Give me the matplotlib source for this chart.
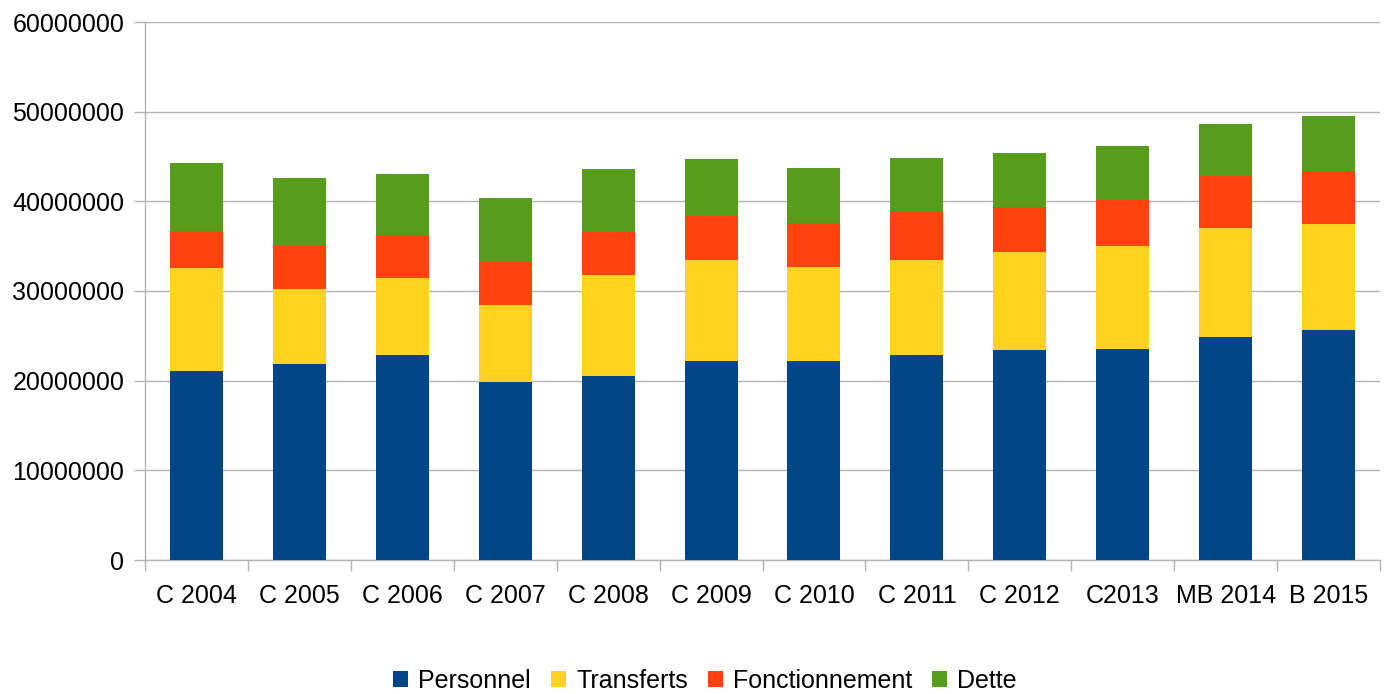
import matplotlib
matplotlib.use("Agg")
import matplotlib.pyplot as plt
import numpy as np

categories = ["C 2004", "C 2005", "C 2006", "C 2007", "C 2008", "C 2009",
              "C 2010", "C 2011", "C 2012", "C2013", "MB 2014", "B 2015"]
personnel = [21.12, 21.86, 22.87, 19.86, 20.52, 22.19, 22.19, 22.87, 23.42, 23.53, 24.87, 25.65]
transferts = [11.44, 8.36, 8.58, 8.58, 11.26, 11.27, 10.49, 10.59, 10.93, 11.49, 12.15, 11.82]
fonctionnement = [4.13, 4.83, 4.71, 4.83, 4.83, 4.93, 4.90, 5.46, 5.02, 5.16, 5.83, 5.91]
dette = [7.58, 7.54, 6.88, 7.10, 6.99, 6.38, 6.13, 5.91, 6.01, 5.98, 5.76, 6.13]
series_names = ["Personnel", "Transferts", "Fonctionnement", "Dette"]
colors = ["#004586", "#ffd320", "#ff420e", "#579d1c"]

plt.rcParams['font.family'] = ['Liberation Sans', 'DejaVu Sans']

fig = plt.figure(figsize=(13.95, 6.94), dpi=100)
ax = fig.add_axes([145/1395, 1-560/694, (1380-145)/1395, (560-22)/694])

x = np.arange(len(categories))
bottom = np.zeros(len(categories))
for name, vals, c in zip(series_names, [personnel, transferts, fonctionnement, dette], colors):
    v = np.array(vals) * 1e6
    ax.bar(x, v, width=0.515, bottom=bottom, color=c, label=name, zorder=3)
    bottom += v

ax.set_xlim(-0.5, len(categories) - 0.5)
ax.set_ylim(0, 60e6)
ax.set_yticks(np.arange(0, 60e6 + 1, 10e6))
ax.set_yticklabels([f"{int(t)}" for t in np.arange(0, 60e6 + 1, 10e6)])
ax.set_xticks(x)
ax.set_xticklabels(categories)
ax.set_xticks(np.arange(-0.5, len(categories)), minor=True)
ax.tick_params(axis='x', which='major', length=0, pad=17, labelsize=18)
ax.tick_params(axis='x', which='minor', length=8, width=1, color='#b3b3b3')
ax.tick_params(axis='y', length=8, width=1, color='#b3b3b3', pad=7, labelsize=18)
ax.grid(axis='y', color='#b3b3b3', linewidth=1, zorder=0)
for s in ['top', 'right']:
    ax.spines[s].set_visible(False)
for s in ['left', 'bottom']:
    ax.spines[s].set_color('#b3b3b3')
    ax.spines[s].set_linewidth(1)

fig.legend(loc='center', bbox_to_anchor=(705/1395, 1-681/694), ncol=4, frameon=False,
           fontsize=18, handlelength=0.6, handleheight=0.6, handletextpad=0.4,
           columnspacing=0.8)

fig.savefig("out.png", dpi=100)
